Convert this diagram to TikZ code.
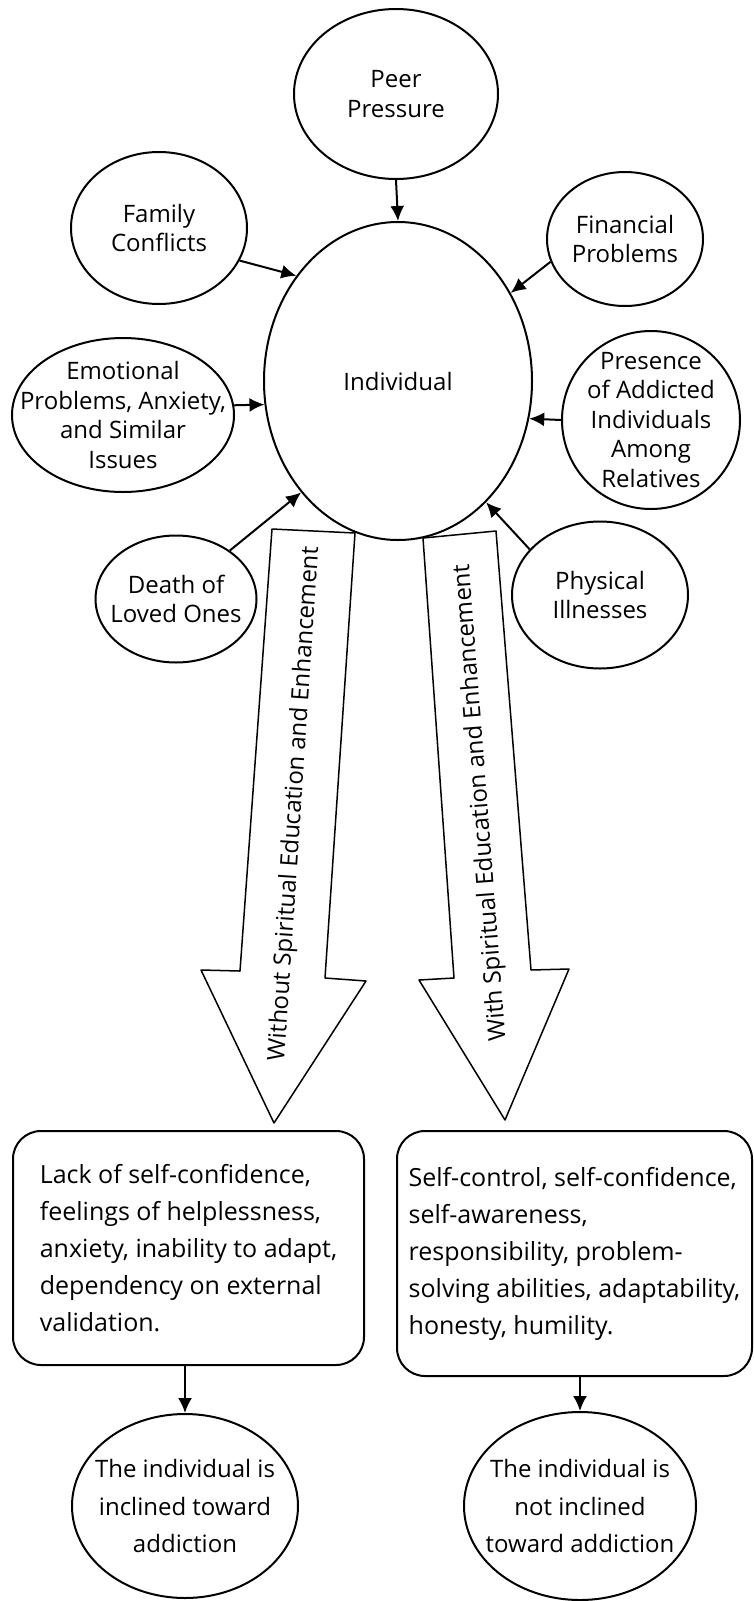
\documentclass[tikz,border=0pt]{standalone}
\usepackage{fontspec}
\setmainfont{Open Sans}
\usepackage{tikz}
\usetikzlibrary{shapes.geometric,arrows.meta}

\begin{document}
\begin{tikzpicture}[x=1pt, y=-1pt, line width=2pt, >={Latex[length=15pt,width=14pt]},
main/.style = {draw, ellipse, inner sep=0pt},
txt/.style = {align=center, font=\fontsize{24}{29.5}\selectfont},
txtb/.style = {align=center, font=\fontsize{24}{37.5}\selectfont},
res/.style = {draw, rounded corners=28pt, align=left, inner sep=0pt, font=\fontsize{25}{37}\selectfont},
lab/.style = {font=\fontsize{24}{29}\selectfont, inner sep=0pt},
big/.style = {line width=1.5pt, line join=round}]
\useasboundingbox (0,0) rectangle (754,1601);
\node[main, minimum width=268pt, minimum height=318pt, label={[txt]center:Individual}] (1) at (398,381) {};
\node[main, minimum width=204pt, minimum height=170pt, label={[txt]center:Peer\\Pressure}] (2) at (396,94) {};
\node[main, minimum width=176pt, minimum height=152pt, label={[txt]center:Family\\Conflicts}] (3) at (159,228) {};
\node[main, minimum width=156pt, minimum height=134pt, label={[txt]center:Financial\\Problems}] (4) at (625,239) {};
\node[main, minimum width=222pt, minimum height=154pt, label={[txt]center:Emotional\\Problems, Anxiety,\\and Similar\\Issues}] (5) at (123,415) {};
\node[main, minimum width=178pt, minimum height=178pt, label={[txt]center:Presence\\of Addicted\\Individuals\\Among\\Relatives}] (6) at (651,420) {};
\node[main, minimum width=161pt, minimum height=127pt, label={[txt]center:Death of\\Loved Ones}] (7) at (176,599) {};
\node[main, minimum width=176pt, minimum height=147pt, label={[txt]center:Physical\\Illnesses}] (8) at (600,595) {};
\node[res, minimum width=351pt, minimum height=234pt] (9) at (188.5,1248) {Lack of self-confidence,\\feelings of helplessness,\\anxiety, inability to adapt,\\dependency on external\\validation.};
\node[res, minimum width=355pt, minimum height=245pt] (10) at (574.5,1253.5) {Self-control, self-confidence,\\self-awareness,\\responsibility, problem-\\solving abilities, adaptability,\\honesty, humility.};
\node[main, minimum width=226pt, minimum height=184pt, label={[txtb]center:The individual is\\inclined toward\\addiction}] (11) at (185,1506) {};
\node[main, minimum width=232pt, minimum height=188pt, label={[txtb]center:The individual is\\not inclined\\toward addiction}] (12) at (580,1506) {};
\draw[big] (272,529) -- (240,971) -- (201,970) -- (274,1123) -- (366,981) -- (325,978) -- (355,533) -- cycle;
\draw[big] (423,538) -- (454,978) -- (419,980) -- (505,1120) -- (569,969) -- (531,970) -- (496,531) -- cycle;
\node[lab, rotate=86.2] (13) at (295,804) {Without Spiritual Education and Enhancement};
\node[lab, rotate=94.4] (14) at (481,803) {With Spiritual Education and Enhancement};
\draw[->] (2.south) -- (1.north);
\draw[->] (3.-22) -- (1.134);
\draw[->] (4.197) -- (1.38);
\draw[->] (5.5) -- (1.190);
\draw[->] (6.180) -- (1.-16);
\draw[->] (7.42) -- (1.229);
\draw[->] (8.147) -- (1.-54);
\draw[->] (11.north |- 9.south) -- (11.north);
\draw[->] (12.north |- 10.south) -- (12.north);
\end{tikzpicture}
\end{document}
